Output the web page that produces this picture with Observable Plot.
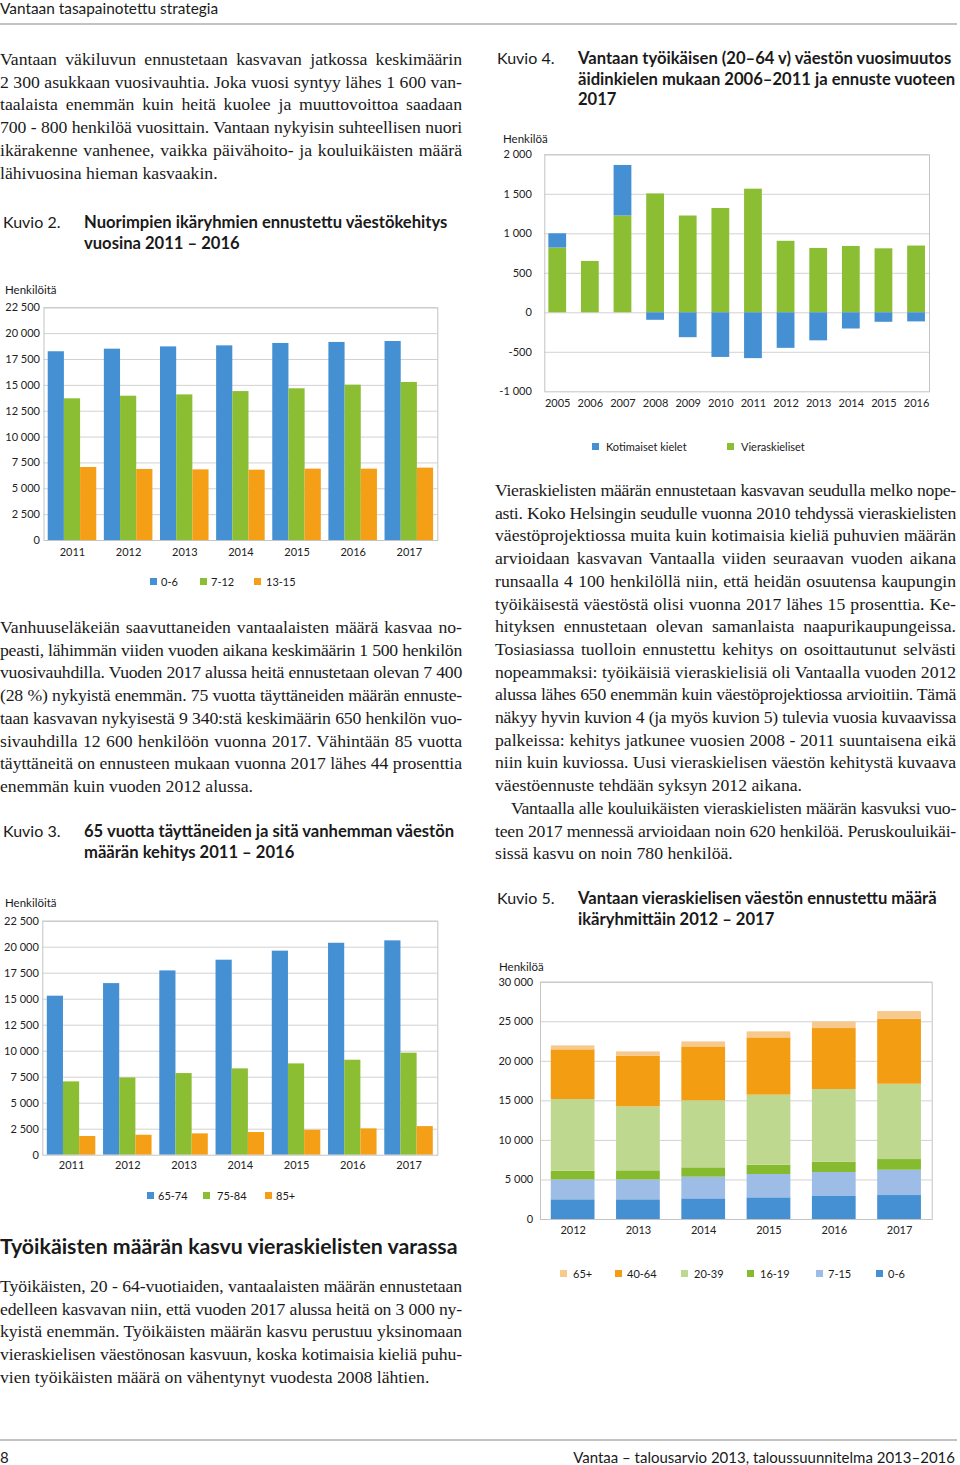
<!DOCTYPE html>
<html><head><meta charset="utf-8">
<script src="https://cdn.jsdelivr.net/npm/d3@7"></script>
<script src="https://cdn.jsdelivr.net/npm/@observablehq/plot@0.6"></script>
<style>
html,body{margin:0;padding:0;background:#fff;}
#page{position:relative;width:960px;height:1465px;overflow:hidden;font-family:Lato,sans-serif;color:#1a1a1a;}
.line{position:absolute;white-space:nowrap;height:22.7px;line-height:22.7px;font-family:"Liberation Serif",serif;font-size:17.7px;color:#1a1a1a;}
.kv{position:absolute;font-size:16px;line-height:20.5px;}
.kt{position:absolute;font-weight:bold;font-size:16.6px;line-height:20.5px;}
.lab{position:absolute;font-size:11px;line-height:13px;}
.sq{position:absolute;width:7px;height:7px;}
.chart{position:absolute;}
</style></head><body><div id="page"></div>
<script>
// ---------- DATA ----------
const k2Years = ["2011","2012","2013","2014","2015","2016","2017"];
const k2Series = ["0-6","7-12","13-15"];
const k2_0_6   = [18250,18500,18720,18820,19050,19150,19240];
const k2_7_12  = [13700,13950,14080,14400,14670,15020,15280];
const k2_13_15 = [7060,6870,6830,6800,6900,6900,7000];
const k2Ticks = [0,2500,5000,7500,10000,12500,15000,17500,20000,22500];

const k3Years = ["2011","2012","2013","2014","2015","2016","2017"];
const k3Series = ["65-74","75-84","85+"];
const k3_65_74 = [15290,16500,17720,18750,19620,20380,20610];
const k3_75_84 = [7050,7430,7850,8300,8780,9130,9810];
const k3_85    = [1800,1920,2050,2180,2400,2530,2750];
const k3Ticks = [0,2500,5000,7500,10000,12500,15000,17500,20000,22500];

const k4Years = ["2005","2006","2007","2008","2009","2010","2011","2012","2013","2014","2015","2016"];
const k4Series = ["Kotimaiset kielet","Vieraskieliset"];
const k4Koti  = [180,0,640,-95,-315,-565,-580,-450,-355,-205,-120,-115];
const k4Viera = [820,650,1225,1505,1225,1320,1565,905,815,840,810,845];
const k4Ticks = [-1000,-500,0,500,1000,1500,2000];

const k5Years = ["2012","2013","2014","2015","2016","2017"];
const k5Series = ["0-6","7-15","16-19","20-39","40-64","65+"];
const k5_0_6   = [2490,2490,2610,2740,2910,3030];
const k5_7_15  = [2520,2520,2740,2950,3030,3200];
const k5_16_19 = [1100,1140,1180,1180,1310,1350];
const k5_20_39 = [9060,8090,8470,8850,9180,9520];
const k5_40_64 = [6280,6400,6820,7240,7710,8220];
const k5_65    = [500,550,630,760,840,970];
const k5Ticks = [0,5000,10000,15000,20000,25000,30000];
const k5LegendOrder = ["65+","40-64","20-39","16-19","7-15","0-6"];

const BLUE="#4590d2", GREEN="#8cbe33", ORANGE="#f59f17";
const k5Colors = ["#4590d2","#9dbce6","#86bb2f","#bfd88f","#f39d12","#f8c98c"];

// ---------- helpers ----------
const page = document.getElementById("page");
function el(tag, cls, css, text){ const e=document.createElement(tag); if(cls) e.className=cls; Object.assign(e.style,css||{}); if(text!=null) e.textContent=text; page.appendChild(e); return e; }
const fmt = d => (d<0?"-":"") + d3.format(",")(Math.abs(d)).replace(/,/g," ");
const LH = 22.7;
function para(left, top, width, lines, lastIdx, indents){
  lines.forEach((t,i)=>{
    const ind = (indents && indents[i]) || 0;
    const d = el("div","line",{left:(left+ind)+"px", top:(top+i*LH)+"px", width:(width-ind)+"px"});
    const s = document.createElement("span"); s.textContent=t; d.appendChild(s);
    const w = s.getBoundingClientRect().width;
    if (w > width-ind) s.style.letterSpacing = ((width-ind-w)/t.length - 0.02)+"px";
    if (!lastIdx.includes(i)) { d.style.textAlign="justify"; d.style.textAlignLast="justify"; }
  });
}
function heading(left, top, num, lines){
  el("div","kv",{left:left+"px", top:top+"px"}, num);
  lines.forEach((t,i)=> el("div","kt",{left:(left+81)+"px", top:(top+i*20.5)+"px", whiteSpace:"nowrap"}, t));
}
function legend(cy, items){
  items.forEach(([sx, lx, color, text])=>{
    el("div","sq",{left:sx+"px", top:(cy-3)+"px", background:color});
    el("div","lab",{left:lx+"px", top:(cy-6.5)+"px", whiteSpace:"nowrap"}, text);
  });
}
function place(svg, left, top){ const w=el("div","chart",{left:left+"px", top:top+"px"}); w.appendChild(svg); }
const style = {fontFamily:"Lato, sans-serif", fontSize:"11px", color:"#222", background:"transparent", overflow:"visible"};

function groupedChart({width, height, mt, mr, mb, ml, pi, po, years, series, values, colors, ticks, ypad, xpad}){
  const data = years.flatMap((yr,i)=> series.map((s,j)=>({year:yr, series:s, value:values[j][i]})));
  const bw = d3.scaleBand().domain(years).range([ml, width-mr]).paddingInner(pi).paddingOuter(po).bandwidth();
  const n = series.length;
  const marks = [Plot.ruleY(ticks.slice(1), {stroke:"#d2d2d2"})];
  series.forEach((s,j)=> marks.push(Plot.barY(data.filter(d=>d.series===s), {x:"year", y:"value", fill:colors[j], insetLeft:j*bw/n, insetRight:(n-1-j)*bw/n})));
  marks.push(Plot.frame({stroke:"#c4c4c4"}));
  return Plot.plot({width, height, marginTop:mt, marginRight:mr, marginBottom:mb, marginLeft:ml, style,
    x:{type:"band", domain:years, paddingInner:pi, paddingOuter:po, round:false, tickSize:0, tickPadding:xpad, label:null},
    y:{domain:[ticks[0], ticks[ticks.length-1]], ticks, tickFormat:fmt, tickSize:0, tickPadding:ypad, label:null},
    marks});
}

// ---------- page header / footer ----------
el("div","",{position:"absolute", left:"0px", top:"0px", fontSize:"15.4px", lineHeight:"16px"}, "Vantaan tasapainotettu strategia");
el("div","",{position:"absolute", left:"0px", top:"23px", width:"957px", height:"2px", background:"#c3c3c3"});
el("div","",{position:"absolute", left:"0px", top:"1439px", width:"957px", height:"2px", background:"#c3c3c3"});
el("div","",{position:"absolute", left:"0px", top:"1449px", fontSize:"15px", lineHeight:"16px"}, "8");
el("div","",{position:"absolute", right:"5px", top:"1449px", fontSize:"15px", lineHeight:"16px", whiteSpace:"nowrap"}, "Vantaa – talousarvio 2013, taloussuunnitelma 2013–2016");

// ---------- text ----------
para(0, 48, 462, [
 "Vantaan väkiluvun ennustetaan kasvavan jatkossa keskimäärin",
 "2 300 asukkaan vuosivauhtia. Joka vuosi syntyy lähes 1 600 van-",
 "taalaista enemmän kuin heitä kuolee ja muuttovoittoa saadaan",
 "700 - 800 henkilöä vuosittain. Vantaan nykyisin suhteellisen nuori",
 "ikärakenne vanhenee, vaikka päivähoito- ja kouluikäisten määrä",
 "lähivuosina hieman kasvaakin."], [5]);

heading(3, 212, "Kuvio 2.", ["Nuorimpien ikäryhmien ennustettu väestökehitys","vuosina 2011 – 2016"]);

para(0, 616, 462, [
 "Vanhuuseläkeiän saavuttaneiden vantaalaisten määrä kasvaa no-",
 "peasti, lähimmän viiden vuoden aikana keskimäärin 1 500 henkilön",
 "vuosivauhdilla. Vuoden 2017 alussa heitä ennustetaan olevan 7 400",
 "(28 %) nykyistä enemmän. 75 vuotta täyttäneiden määrän ennuste-",
 "taan kasvavan nykyisestä 9 340:stä keskimäärin 650 henkilön vuo-",
 "sivauhdilla 12 600 henkilöön vuonna 2017. Vähintään 85 vuotta",
 "täyttäneitä on ennusteen mukaan vuonna 2017 lähes 44 prosenttia",
 "enemmän kuin vuoden 2012 alussa."], [7]);

heading(3, 821, "Kuvio 3.", ["65 vuotta täyttäneiden ja sitä vanhemman väestön","määrän kehitys 2011 – 2016"]);

el("div","",{position:"absolute", left:"0px", top:"1233px", fontSize:"21.3px", fontWeight:"bold", lineHeight:"26px", whiteSpace:"nowrap"}, "Työikäisten määrän kasvu vieraskielisten varassa");
para(0, 1275, 462, [
 "Työikäisten, 20 - 64-vuotiaiden, vantaalaisten määrän ennustetaan",
 "edelleen kasvavan niin, että vuoden 2017 alussa heitä on 3 000 ny-",
 "kyistä enemmän. Työikäisten määrän kasvu perustuu yksinomaan",
 "vieraskielisen väestönosan kasvuun, koska kotimaisia kieliä puhu-",
 "vien työikäisten määrä on vähentynyt vuodesta 2008 lähtien."], [4]);

heading(497, 48, "Kuvio 4.", ["Vantaan työikäisen (20–64 v) väestön vuosimuutos","äidinkielen mukaan 2006–2011 ja ennuste vuoteen","2017"]);

para(495, 479, 461, [
 "Vieraskielisten määrän ennustetaan kasvavan seudulla melko nope-",
 "asti. Koko Helsingin seudulle vuonna 2010 tehdyssä vieraskielisten",
 "väestöprojektiossa muita kuin kotimaisia kieliä puhuvien määrän",
 "arvioidaan kasvavan Vantaalla viiden seuraavan vuoden aikana",
 "runsaalla 4 100 henkilöllä niin, että heidän osuutensa kaupungin",
 "työikäisestä väestöstä olisi vuonna 2017 lähes 15 prosenttia. Ke-",
 "hityksen ennustetaan olevan samanlaista naapurikaupungeissa.",
 "Tosiasiassa tuolloin ennustettu kehitys on osoittautunut selvästi",
 "nopeammaksi: työikäisiä vieraskielisiä oli Vantaalla vuoden 2012",
 "alussa lähes 650 enemmän kuin väestöprojektiossa arvioitiin. Tämä",
 "näkyy hyvin kuvion 4 (ja myös kuvion 5) tulevia vuosia kuvaavissa",
 "palkeissa: kehitys jatkunee vuosien 2008 - 2011 suuntaisena eikä",
 "niin kuin kuviossa. Uusi vieraskielisen väestön kehitystä kuvaava",
 "väestöennuste tehdään syksyn 2012 aikana.",
 "Vantaalla alle kouluikäisten vieraskielisten määrän kasvuksi vuo-",
 "teen 2017 mennessä arvioidaan noin 620 henkilöä. Peruskouluikäi-",
 "sissä kasvu on noin 780 henkilöä."], [13,16], {14:16});

heading(497, 888, "Kuvio 5.", ["Vantaan vieraskielisen väestön ennustettu määrä","ikäryhmittäin 2012 – 2017"]);

// ---------- Kuvio 2 ----------
el("div","lab",{left:"5px", top:"283px", fontSize:"11.5px"}, "Henkilöitä");
place(groupedChart({width:470, height:290, mt:27.3, mr:32.7, mb:30, ml:43.5, pi:0.135, po:0.075,
  years:k2Years, series:k2Series, values:[k2_0_6,k2_7_12,k2_13_15], colors:[BLUE,GREEN,ORANGE], ticks:k2Ticks, ypad:4, xpad:8}), 0, 280);
legend(581, [[150,161,BLUE,k2Series[0]],[200,211,GREEN,k2Series[1]],[254,266,ORANGE,k2Series[2]]]);

// ---------- Kuvio 3 ----------
el("div","lab",{left:"5px", top:"896px", fontSize:"11.5px"}, "Henkilöitä");
place(groupedChart({width:470, height:290, mt:30.7, mr:32.7, mb:25.3, ml:42.3, pi:0.1375, po:0.08,
  years:k3Years, series:k3Series, values:[k3_65_74,k3_75_84,k3_85], colors:[BLUE,GREEN,ORANGE], ticks:k3Ticks, ypad:4, xpad:6}), 0, 890);
legend(1195, [[147,158,BLUE,k3Series[0]],[203,217,GREEN,k3Series[1]],[265,276,ORANGE,k3Series[2]]]);

// ---------- Kuvio 4 ----------
el("div","lab",{left:"503px", top:"132px", fontSize:"11.5px"}, "Henkilöä");
{
  const data = k4Years.flatMap((yr,i)=>[
    {year:yr, series:k4Series[1], value:k4Viera[i]},
    {year:yr, series:k4Series[0], value:k4Koti[i]}]);
  const svg = Plot.plot({width:465, height:290, marginTop:24.3, marginRight:31, marginBottom:28.7, marginLeft:49.3, style,
    x:{type:"band", domain:k4Years, paddingInner:0.455, paddingOuter:0.124, round:false, tickSize:0, tickPadding:7, label:null},
    y:{domain:[k4Ticks[0], k4Ticks[k4Ticks.length-1]], ticks:k4Ticks, tickFormat:fmt, tickSize:0, tickPadding:13, label:null},
    color:{domain:k4Series, range:[BLUE, GREEN]},
    marks:[
      Plot.ruleY(k4Ticks.slice(1), {stroke:"#d2d2d2"}),
      Plot.barY(data, Plot.stackY({x:"year", y:"value", z:"series", fill:"series"})),
      Plot.frame({stroke:"#c4c4c4"})
    ]});
  place(svg, 495, 130);
}
legend(446, [[592,606,BLUE,k4Series[0]],[727,741,GREEN,k4Series[1]]]);

// ---------- Kuvio 5 ----------
el("div","lab",{left:"499px", top:"960px", fontSize:"11.5px"}, "Henkilöä");
{
  const vals = [k5_0_6,k5_7_15,k5_16_19,k5_20_39,k5_40_64,k5_65];
  const data = k5Years.flatMap((yr,i)=> k5Series.map((s,j)=>({year:yr, series:s, value:vals[j][i]})));
  const svg = Plot.plot({width:465, height:290, marginTop:26.7, marginRight:28.3, marginBottom:26, marginLeft:45, style,
    x:{type:"band", domain:k5Years, paddingInner:0.33, paddingOuter:0.165, round:false, tickSize:0, tickPadding:6.5, label:null},
    y:{domain:[0,30000], ticks:k5Ticks, tickFormat:fmt, tickSize:0, tickPadding:7.3, label:null},
    color:{domain:k5Series, range:k5Colors},
    marks:[
      Plot.ruleY(k5Ticks.slice(1), {stroke:"#d2d2d2"}),
      Plot.barY(data, Plot.stackY({x:"year", y:"value", z:"series", fill:"series"})),
      Plot.frame({stroke:"#c4c4c4"})
    ]});
  place(svg, 495, 955);
}
const k5Pos = {"65+":[560,573],"40-64":[615,627],"20-39":[681,694],"16-19":[747,760],"7-15":[816,828],"0-6":[876,888]};
legend(1273, k5LegendOrder.map(s=>[k5Pos[s][0], k5Pos[s][1], k5Colors[k5Series.indexOf(s)], s]));
</script>
</body></html>
